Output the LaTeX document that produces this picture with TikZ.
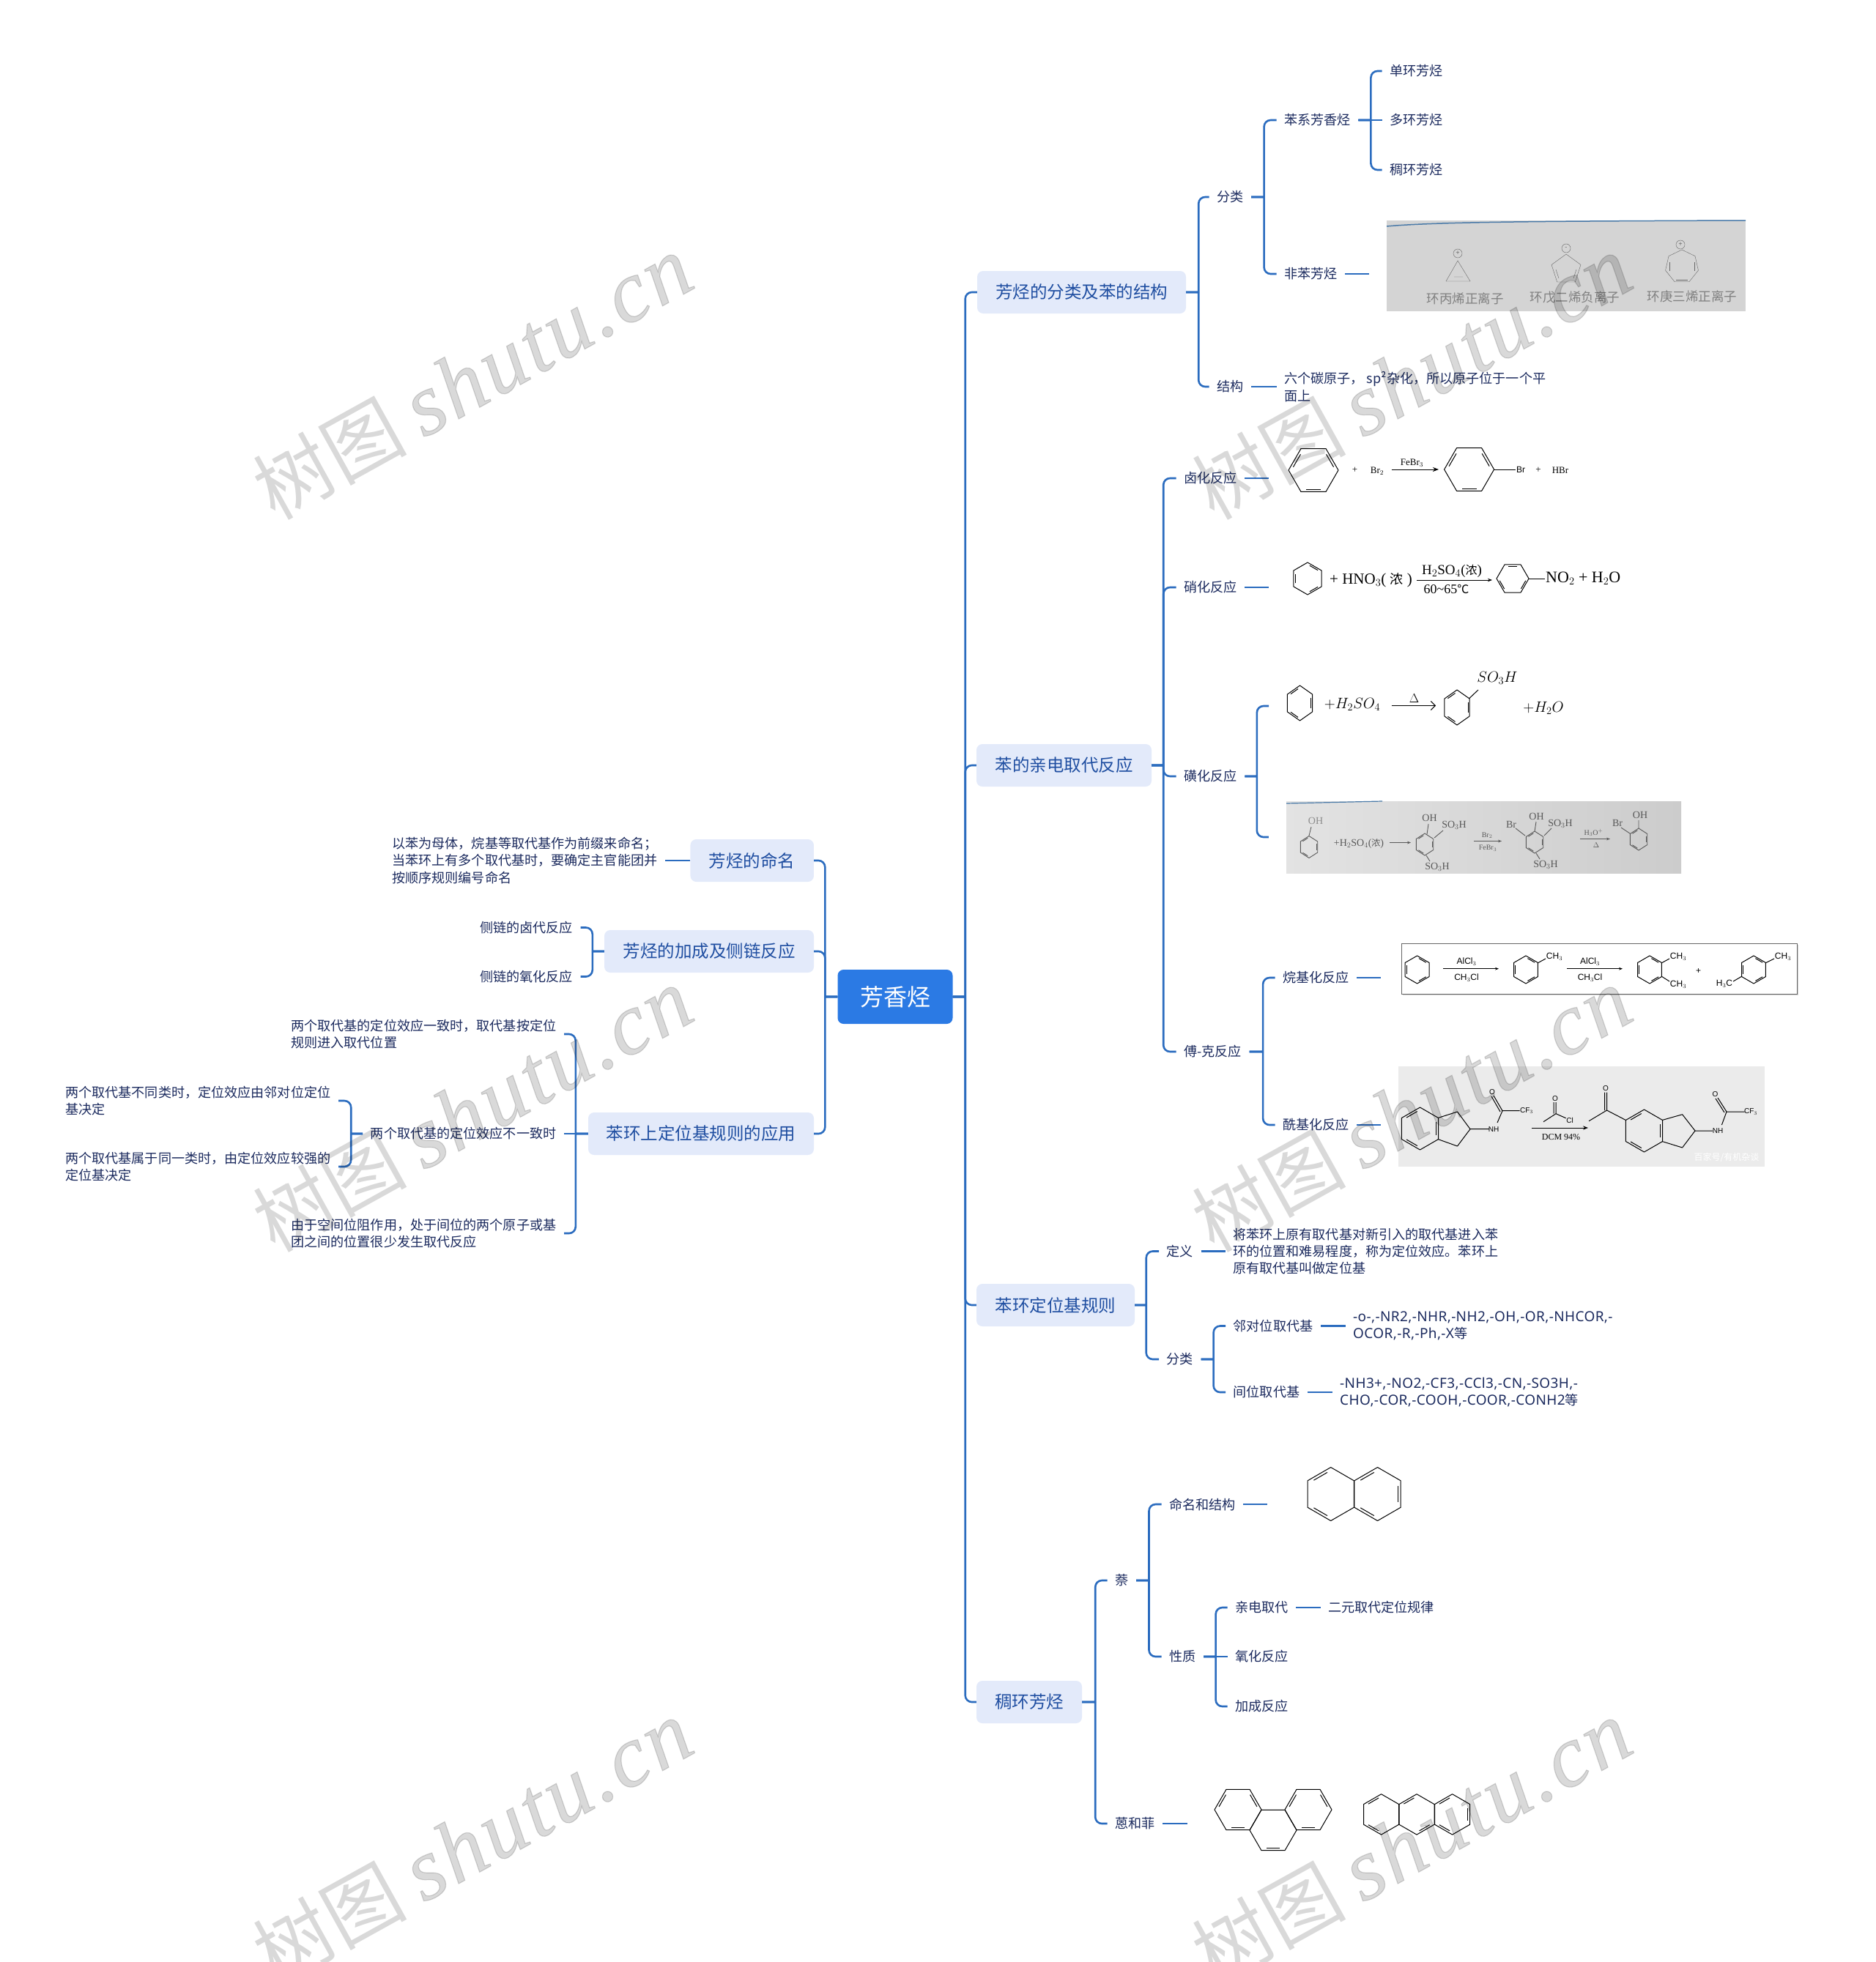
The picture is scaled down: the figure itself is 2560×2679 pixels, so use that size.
\documentclass[tikz,border=0pt]{standalone}
\usepackage{fontspec}
\setmainfont{Noto Sans CJK SC}
\newfontfamily\cjkfont{Noto Sans CJK SC}
\newfontfamily\latinfont[LetterSpace=2]{Noto Sans}
\newfontfamily\chemserif{Liberation Serif}
\newfontfamily\chemsans{Liberation Sans}
\newfontfamily\wmfont[FakeBold=1,LetterSpace=3]{Liberation Serif}
\definecolor{mapBlue}{HTML}{2B6CBF}
\definecolor{mapRoot}{HTML}{2B7AE4}
\definecolor{mapPale}{HTML}{E3EAFA}
\definecolor{mapTopic}{HTML}{1F4EA1}
\definecolor{mapInk}{HTML}{1B2A5E}
\definecolor{photoLine}{HTML}{4A7AA8}
\usetikzlibrary{arrows.meta, positioning, shapes.geometric, shadows}

\newcommand{\ringat}[6][]{%
  \begin{scope}[shift={(#2,#3)},#1]
    \draw[bond] (#5:#4) -- (#5+60:#4) -- (#5+120:#4) -- (#5+180:#4) -- (#5+240:#4) -- (#5+300:#4) -- cycle;
    \foreach \a in {#6} \draw[bond] (\a+9:.82*#4) -- (\a+51:.82*#4);
  \end{scope}}

\begin{document}
\begin{tikzpicture}[
    x=1pt, y=-1pt,
    rootbox/.style={
      rounded corners=8pt,
      fill=mapRoot,
      text=white,
      minimum width=157,
      minimum height=74,
      font=\fontsize{32}{38}\selectfont,
    },
    topic/.style={
      rounded corners=8pt,
      fill=mapPale,
      text=mapTopic,
      minimum height=58,
      inner xsep=0pt,
      font=\fontsize{23.5}{28}\selectfont,
    },
    leaf/.style={
      anchor=west,
      text=mapInk,
      align=left,
      inner xsep=10.5pt,
      inner ysep=1pt,
      font=\fontsize{18.1}{23.4}\selectfont,
    },
    rleaf/.style={leaf, anchor=east},
    conn/.style={mapBlue, line width=2.6pt, rounded corners=9pt},
    stub/.style={mapBlue, line width=2.6pt},
    bond/.style={black, line width=1pt, line join=round},
    arr/.style={-{Stealth[length=8pt]}, black, line width=1pt},
    serif/.style={inner sep=0pt, font=\chemserif\fontsize{13}{15}\selectfont},
    sans/.style={inner sep=0pt, font=\chemsans\fontsize{12}{14}\selectfont},
    photo/.style={inner sep=0pt, fill=#1},
    charge/.style={circle, draw=black!60, inner sep=0pt, minimum size=12, font=\fontsize{9}{9}\selectfont, text=black!60},
    wmark/.style={rotate=29, black, opacity=.15, inner sep=0pt},
  ]
    \useasboundingbox (0,0) rectangle (2560,2679);

    \node[rootbox] (root) at (1222,1361) {芳香烃};

    % right side
    \node[topic, minimum width=285] (kinds) at (1476.5,399) {芳烃的分类及苯的结构};
    \node[topic, minimum width=239] (subst) at (1452.5,1045) {苯的亲电取代反应};
    \node[topic, minimum width=216] (rules) at (1441,1782) {苯环定位基规则};
    \node[topic, minimum width=144] (fused) at (1405,2324) {稠环芳烃};

    \node[leaf] (kindsA) at (1650.5,269) {分类};
    \node[leaf] (kindsB) at (1650.5,528) {结构};
    \node[leaf] (benz) at (1742.5,164) {苯系芳香烃};
    \node[leaf] (nonbenz) at (1742.5,374) {非苯芳烃};
    \node[leaf] (mono) at (1886.5,97) {单环芳烃};
    \node[leaf] (poly) at (1886.5,164) {多环芳烃};
    \node[leaf] (fusedA) at (1886.5,232) {稠环芳烃};
    \node[leaf] (structxt) at (1742.5,528) {六个碳原子， sp²杂化，所以原子位于一个平\\面上};

    \node[leaf] (halo) at (1605.5,653) {卤化反应};
    \node[leaf] (nitro) at (1605.5,802) {硝化反应};
    \node[leaf] (sulfo) at (1605.5,1060) {磺化反应};
    \node[leaf] (fc) at (1605.5,1436) {傅-克反应};
    \node[leaf] (alkyl) at (1740.5,1335) {烷基化反应};
    \node[leaf] (acyl) at (1740.5,1536) {酰基化反应};
    \coordinate (haloEnd) at (1732,653);
    \coordinate (nitroEnd) at (1732,802);
    \coordinate (sulfoEnd) at (1732,964);

    \node[leaf] (rdef) at (1582,1708.5) {定义};
    \node[leaf] (rkind) at (1582,1856) {分类};
    \node[leaf] (rdeftxt) at (1672.5,1708.5) {将苯环上原有取代基对新引入的取代基进入苯\\环的位置和难易程度，称为定位效应。苯环上\\原有取代基叫做定位基};
    \node[leaf] (ortho) at (1673,1810.5) {邻对位取代基};
    \node[leaf] (meta) at (1673,1901) {间位取代基};
    \node[leaf, font=\latinfont\fontsize{19}{23.4}\selectfont] (orthotxt) at (1836.5,1810.5) {-o-,-NR2,-NHR,-NH2,-OH,-OR,-NHCOR,-\\OCOR,-R,-Ph,-X{\cjkfont\fontsize{18.1}{23.4}\selectfont 等}};
    \node[leaf, font=\latinfont\fontsize{19}{23.4}\selectfont] (metatxt) at (1818.5,1901) {-NH3+,-NO2,-CF3,-CCl3,-CN,-SO3H,-\\CHO,-COR,-COOH,-COOR,-CONH2{\cjkfont\fontsize{18.1}{23.4}\selectfont 等}};

    \node[leaf] (naph) at (1511.5,2158) {萘};
    \node[leaf] (anth) at (1511.5,2490) {蒽和菲};
    \node[leaf] (nname) at (1585.5,2054) {命名和结构};
    \node[leaf] (nprop) at (1585.5,2262) {性质};
    \node[leaf] (elec) at (1675.5,2195) {亲电取代};
    \node[leaf] (oxid) at (1675.5,2262) {氧化反应};
    \node[leaf] (addi) at (1675.5,2330) {加成反应};
    \node[leaf] (electxt) at (1802.5,2195) {二元取代定位规律};
    \coordinate (nnameEnd) at (1730,2054);
    \coordinate (anthEnd) at (1621,2490);

    % left side
    \node[topic, minimum width=168.5] (naming) at (1026.7,1175) {芳烃的命名};
    \node[topic, minimum width=286] (addn) at (968,1299) {芳烃的加成及侧链反应};
    \node[topic, minimum width=308] (apply) at (957,1548) {苯环上定位基规则的应用};

    \node[rleaf] (namingtxt) at (908,1175) {以苯为母体，烷基等取代基作为前缀来命名；\\当苯环上有多个取代基时，要确定主官能团并\\按顺序规则编号命名};
    \node[rleaf] (sideA) at (792.5,1266.5) {侧链的卤代反应};
    \node[rleaf] (sideB) at (792.5,1333.5) {侧链的氧化反应};
    \node[rleaf] (appA) at (770,1412) {两个取代基的定位效应一致时，取代基按定位\\规则进入取代位置};
    \node[rleaf] (appB) at (770,1548) {两个取代基的定位效应不一致时};
    \node[rleaf] (appC) at (770,1684) {由于空间位阻作用，处于间位的两个原子或基\\团之间的位置很少发生取代反应};
    \node[rleaf] (appBa) at (462,1503) {两个取代基不同类时，定位效应由邻对位定位\\基决定};
    \node[rleaf] (appBb) at (462,1593) {两个取代基属于同一类时，由定位效应较强的\\定位基决定};

    % pictures that hang on the leaves
    \node[photo=black!17, minimum width=490, minimum height=124] (nonpic) at (2138,363) {};
    \draw[photoLine, line width=1.5pt] (1893,309) .. controls (1960,303) and (2100,302) .. (2383,301);
    \draw[black!60] (1990,356) -- (1974,384) -- (2007,384) -- cycle (1985,378) -- (1997,378);
    \node[charge] (chgA) at (1990,346) {+};
    \node[regular polygon, regular polygon sides=5, draw=black!60, inner sep=0pt, minimum size=42] (cp) at (2138,368) {};
    \draw[black!60] (2124,368) -- (2128,380) (2152,368) -- (2148,380);
    \node[charge] (chgB) at (2138,339) {-};
    \node[regular polygon, regular polygon sides=7, draw=black!60, inner sep=0pt, minimum size=46] (trop) at (2296,364) {};
    \draw[black!60] (2288,382) -- (2304,382) (2279,358) -- (2279,370) (2313,358) -- (2313,370);
    \node[charge] (chgC) at (2294,334) {+};
    \node[text=black!50, inner sep=0pt, font=\fontsize{17.5}{20}\selectfont] (ionA) at (2000,408) {环丙烯正离子};
    \node[text=black!50, inner sep=0pt, font=\fontsize{17.5}{20}\selectfont] (ionB) at (2150,406) {环戊二烯负离子};
    \node[text=black!50, inner sep=0pt, font=\fontsize{17.5}{20}\selectfont] (ionC) at (2310,405) {环庚三烯正离子};

    % halogenation
    \ringat{1793}{642}{34}{0}{180,300,60}
    \node[serif] (plusA) at (1849.5,642) {+};
    \node[serif] (brtwo) at (1880,643) {Br$_2$};
    \coordinate (arrAa) at (1899.5,641);
    \coordinate (arrAb) at (1964,641);
    \draw[arr] (arrAa) -- (arrAb);
    \node[serif] (febr) at (1927.5,632) {FeBr$_3$};
    \ringat{2005.6}{641}{34}{0}{180,300,60}
    \draw[bond] (2040,641) -- (2069,641);
    \node[sans] (brbond) at (2076,641) {Br};
    \node[serif] (plusB) at (2100,642) {+};
    \node[serif] (hbr) at (2130,642) {HBr};

    % nitration
    \ringat{1785}{790}{22}{30}{150,270,30}
    \node[serif, anchor=west, font=\chemserif\fontsize{21}{24}\selectfont] (hno) at (1815,792) {+ HNO$_3$( {\cjkfont\fontsize{18}{20}\selectfont 浓} )};
    \draw[arr, line width=1pt, -{Stealth[length=6pt]}] (1934,792) -- (2037,792);
    \node[serif, font=\chemserif\fontsize{19}{22}\selectfont] (hso) at (1982,780) {H$_2$SO$_4$({\cjkfont\fontsize{16}{18}\selectfont 浓})};
    \node[serif, font=\chemserif\fontsize{18}{21}\selectfont] (temp) at (1974.5,804) {60\textasciitilde 65{\cjkfont\fontsize{16}{18}\selectfont ℃}};
    \ringat{2065}{790}{22}{0}{240,120,0}
    \draw[bond] (2087,790) -- (2109,790);
    \node[serif, anchor=west, font=\chemserif\fontsize{22}{24}\selectfont] (noprod) at (2110,790) {NO$_2$ + H$_2$O};

    % sulfonation
    \ringat[yscale=1,xscale=.82]{1774.5}{960}{24}{30}{210,330,90}
    \node[serif, font=\fontsize{21}{24}\selectfont] (sulA) at (1846,962) {$+H_2SO_4$};
    \node[serif, font=\chemserif\fontsize{16}{18}\selectfont] (sulD) at (1930.6,954) {$\Delta$};
    \draw[black, line width=1pt, -{Straight Barb[length=6pt]}] (1899.5,963.5) -- (1960,963.5);
    \ringat[xscale=.82]{1989}{966}{24}{30}{210,330,90}
    \draw[bond] (2005.6,953.7) -- (2018,942);
    \node[serif, font=\fontsize{20}{24}\selectfont] (sulB) at (2044,926) {$SO_3H$};
    \node[serif, font=\fontsize{21}{24}\selectfont] (sulC) at (2107,967) {$+H_2O$};

    \node[inner sep=0pt, left color=black!11, right color=black!20, minimum width=539, minimum height=98] (sulpic) at (2025.5,1143) {};
    \draw[photoLine, line width=1.2pt] (1756,1097) -- (1887,1094);
    \begin{scope}[black!65]
      \tikzset{bond/.style={black!65, line width=.9pt}, serif/.style={inner sep=0pt, text=black!65, font=\chemserif\fontsize{14}{16}\selectfont}}
      \ringat[xscale=.9]{1787}{1156.5}{15}{30}{210,330,90}
      \node[serif, text=black!45] (phA) at (1796,1121) {OH};
      \draw[bond] (1790,1129) -- (1787,1141);
      \node[serif] (phB) at (1855,1152) {+H$_2$SO$_4$({\cjkfont\fontsize{12}{14}\selectfont 浓})};
      \draw[bond, -{Stealth[length=5pt]}] (1897,1150.5) -- (1926,1150.5);
      \ringat[xscale=.9]{1945}{1153}{15}{30}{210,330,90}
      \node[serif] (phC) at (1951.5,1117) {OH};
      \node[serif] (phD) at (1985,1127) {SO$_3$H};
      \node[serif] (phE) at (1962,1184) {SO$_3$H};
      \draw[bond] (1950,1125) -- (1948,1139) (1958,1144) -- (1970,1134) (1947,1168) -- (1952,1176);
      \draw[bond, -{Stealth[length=5pt]}] (2012,1148.5) -- (2050,1148.5);
      \node[serif, font=\chemserif\fontsize{10}{12}\selectfont] (phF) at (2030,1140.5) {Br$_2$};
      \node[serif, font=\chemserif\fontsize{10}{12}\selectfont] (phG) at (2031,1158) {FeBr$_3$};
      \ringat[xscale=.9]{2095}{1150}{15}{30}{210,330,90}
      \node[serif] (phH) at (2097.5,1114.5) {OH};
      \node[serif] (phI) at (2130,1124.5) {SO$_3$H};
      \node[serif] (phJ) at (2063,1125.5) {Br};
      \node[serif] (phK) at (2110,1181) {SO$_3$H};
      \draw[bond] (2097,1122) -- (2095,1135) (2108,1141) -- (2118,1131) (2082,1141) -- (2069,1131) (2097,1165) -- (2102,1173);
      \draw[bond, -{Stealth[length=5pt]}] (2157,1145.5) -- (2198,1145.5);
      \node[serif, font=\chemserif\fontsize{10}{12}\selectfont] (phL) at (2175.5,1137) {H$_3$O$^+$};
      \node[serif, font=\chemserif\fontsize{10}{12}\selectfont] (phM) at (2179,1154.5) {$\Delta$};
      \ringat[xscale=.9]{2237}{1146}{15}{30}{210,330,90}
      \node[serif] (phN) at (2239,1113) {OH};
      \node[serif] (phO) at (2208,1124) {Br};
      \draw[bond] (2237,1120) -- (2237,1131) (2225,1138) -- (2213,1130);
    \end{scope}

    % alkylation
    \node[draw=black!60, line width=1pt, fill=white, inner sep=0pt, minimum width=540, minimum height=69,
      drop shadow={shadow xshift=2pt, shadow yshift=-2pt, fill=black!35}] (alkpic) at (2183,1322.5) {};
    \ringat{1934.6}{1324}{19}{30}{150,270,30}
    \draw[bond, -{Stealth[length=5pt]}] (1970,1322.7) -- (2046,1322.7);
    \node[sans] (alA) at (2002,1313) {AlCl$_3$};
    \node[sans] (alB) at (2002,1335) {CH$_3$Cl};
    \ringat{2083}{1324}{19}{30}{150,270,30}
    \draw[bond] (2099,1315) -- (2110,1309);
    \node[sans] (alC) at (2122,1306.5) {CH$_3$};
    \draw[bond, -{Stealth[length=5pt]}] (2139,1322.7) -- (2215,1322.7);
    \node[sans] (alD) at (2170.5,1313) {AlCl$_3$};
    \node[sans] (alE) at (2170.5,1335) {CH$_3$Cl};
    \ringat{2252}{1324}{19}{30}{150,270,30}
    \draw[bond] (2268,1315) -- (2279,1309) (2268,1333) -- (2279,1340);
    \node[sans] (alF) at (2291,1306.5) {CH$_3$};
    \node[sans] (alG) at (2291,1344) {CH$_3$};
    \node[sans] (alH) at (2318.6,1326) {+};
    \ringat{2394}{1324}{19}{30}{150,270,30}
    \draw[bond] (2410,1315) -- (2422,1309) (2378,1333) -- (2366,1340);
    \node[sans] (alI) at (2434,1306.5) {CH$_3$};
    \node[sans] (alJ) at (2354,1343) {H$_3$C};

    % acylation
    \node[photo=black!8, minimum width=500, minimum height=137] (acypic) at (2159,1524.5) {};
    \tikzset{small/.style={sans, font=\chemsans\fontsize{10}{12}\selectfont}}
    \ringat{1938.5}{1541}{29}{30}{210,90,330}
    \draw[bond] (1963,1526.5) -- (1989.5,1518) -- (2007,1541.7) -- (1989.5,1565) -- (1963,1555.5);
    \draw[bond] (2007,1541.7) -- (2033,1541.7) (2044,1533) -- (2051,1516.7) -- (2074.5,1516.7);
    \draw[bond] (2051,1516.7) -- (2039,1496) (2048,1518) -- (2036,1497);
    \node[small] (acA) at (2039,1541.7) {NH};
    \node[small] (acB) at (2037,1491) {O};
    \node[small] (acC) at (2084,1516.7) {CF$_3$};
    \draw[bond] (2124,1505) -- (2124,1520.7) (2121,1505) -- (2121,1520.7) (2107,1531.7) -- (2124,1520.7) -- (2137.6,1526.7);
    \node[small] (acD) at (2123,1500) {O};
    \node[small] (acE) at (2143,1530) {Cl};
    \draw[bond, -{Stealth[length=7pt]}] (2091,1540) -- (2168,1540);
    \node[serif, font=\chemserif\fontsize{12}{14}\selectfont] (acF) at (2131,1553) {DCM 94\%};
    \ringat{2244.5}{1544}{29}{30}{210,90,330}
    \draw[bond] (2269,1529.5) -- (2296.6,1521.7) -- (2314,1544) -- (2296.6,1567) -- (2269,1558.5);
    \draw[bond] (2314,1544) -- (2338,1544) (2350.4,1536) -- (2357,1518) -- (2381.7,1518);
    \draw[bond] (2357,1518) -- (2345,1499) (2354,1519) -- (2342,1500);
    \node[small] (acG) at (2345,1544) {NH};
    \node[small] (acH) at (2341.6,1494) {O};
    \node[small] (acI) at (2390,1518) {CF$_3$};
    \draw[bond] (2219.5,1529.5) -- (2193.5,1516) -- (2169,1530.7) (2193.5,1516) -- (2193.5,1491.7) (2190.5,1516) -- (2190.5,1491.7);
    \node[small] (acJ) at (2192,1486) {O};
    \node[text=white, inner sep=0pt, font=\fontsize{12}{14}\selectfont] (acK) at (2357,1580) {百家号/有机杂谈};

    % naphthalene, phenanthrene, anthracene
    \ringat{1816.7}{2040}{36.5}{30}{210,90}
    \ringat{1880.5}{2040}{36.5}{30}{210,330,90}
    \ringat{1690}{2471}{32}{0}{180,300,60}
    \ringat{1786}{2471}{32}{0}{180,300,60}
    \ringat{1738}{2499}{32}{0}{60}
    \ringat{1885.6}{2477.4}{27.7}{30}{210,90}
    \ringat{1934}{2477.4}{27.7}{30}{210,30}
    \ringat{1982.6}{2477.4}{27.7}{30}{210,330,90}

    % connectors
    \draw[conn] (root.east) -- ++(17,0) ++(0,0) |- (kinds.west);
    \draw[conn] (root.east) -- ++(17,0) ++(0,0) |- (subst.west);
    \draw[conn] (root.east) -- ++(17,0) ++(0,0) |- (rules.west);
    \draw[conn] (root.east) -- ++(17,0) ++(0,0) |- (fused.west);
    \draw[conn] (root.west) -- ++(-17,0) ++(0,0) |- (naming.east);
    \draw[conn] (root.west) -- ++(-17,0) ++(0,0) |- (addn.east);
    \draw[conn] (root.west) -- ++(-17,0) ++(0,0) |- (apply.east);

    \draw[conn] (kinds.east) -- ++(17,0) ++(0,0) |- (kindsA.west);
    \draw[conn] (kinds.east) -- ++(17,0) ++(0,0) |- (kindsB.west);
    \draw[conn] (kindsA.east) -- ++(17.5,0) ++(0,0) |- (benz.west);
    \draw[conn] (kindsA.east) -- ++(17.5,0) ++(0,0) |- (nonbenz.west);
    \draw[conn] (benz.east) -- ++(17,0) ++(0,0) |- (mono.west);
    \draw[stub] (benz.east) -- (poly.west);
    \draw[conn] (benz.east) -- ++(17,0) ++(0,0) |- (fusedA.west);
    \draw[stub, shorten >=24pt] (nonbenz.east) -- (nonbenz.east -| nonpic.west);
    \draw[stub] (kindsB.east) -- (structxt.west);

    \draw[conn] (subst.east) -- ++(16,0) ++(0,0) |- (halo.west);
    \draw[conn] (subst.east) -- ++(16,0) ++(0,0) |- (nitro.west);
    \draw[conn] (subst.east) -- ++(16,0) ++(0,0) |- (sulfo.west);
    \draw[conn] (subst.east) -- ++(16,0) ++(0,0) |- (fc.west);
    \draw[stub] (halo.east) -- (haloEnd);
    \draw[stub] (nitro.east) -- (nitroEnd);
    \draw[conn] (sulfo.east) -- ++(16.5,0) ++(0,0) |- (sulfoEnd);
    \draw[conn, shorten >=24pt] (sulfo.east) -- ++(16.5,0) ++(0,0) |- (sulpic.west);
    \draw[conn] (fc.east) -- ++(18.5,0) ++(0,0) |- (alkyl.west);
    \draw[conn] (fc.east) -- ++(18.5,0) ++(0,0) |- (acyl.west);
    \draw[stub, shorten >=28pt] (alkyl.east) -- (alkyl.east -| alkpic.west);
    \draw[stub, shorten >=24pt] (acyl.east) -- (acyl.east -| acypic.west);

    \draw[conn] (rules.east) -- ++(15.5,0) ++(0,0) |- (rdef.west);
    \draw[conn] (rules.east) -- ++(15.5,0) ++(0,0) |- (rkind.west);
    \draw[stub] (rdef.east) -- (rdeftxt.west);
    \draw[conn] (rkind.east) -- ++(17,0) ++(0,0) |- (ortho.west);
    \draw[conn] (rkind.east) -- ++(17,0) ++(0,0) |- (meta.west);
    \draw[stub] (ortho.east) -- (orthotxt.west);
    \draw[stub] (meta.east) -- (metatxt.west);

    \draw[conn] (fused.east) -- ++(18,0) ++(0,0) |- (naph.west);
    \draw[conn] (fused.east) -- ++(18,0) ++(0,0) |- (anth.west);
    \draw[conn] (naph.east) -- ++(17.5,0) ++(0,0) |- (nname.west);
    \draw[conn] (naph.east) -- ++(17.5,0) ++(0,0) |- (nprop.west);
    \draw[stub] (nname.east) -- (nnameEnd);
    \draw[stub] (anth.east) -- (anthEnd);
    \draw[conn] (nprop.east) -- ++(16.5,0) ++(0,0) |- (elec.west);
    \draw[stub] (nprop.east) -- (oxid.west);
    \draw[conn] (nprop.east) -- ++(16.5,0) ++(0,0) |- (addi.west);
    \draw[stub] (elec.east) -- (electxt.west);

    \draw[stub] (naming.west) -- (namingtxt.east);
    \draw[conn] (addn.west) -- ++(-16,0) ++(0,0) |- (sideA.east);
    \draw[conn] (addn.west) -- ++(-16,0) ++(0,0) |- (sideB.east);
    \draw[conn] (apply.west) -- ++(-17,0) ++(0,0) |- (appA.east);
    \draw[stub] (apply.west) -- (appB.east);
    \draw[conn] (apply.west) -- ++(-17,0) ++(0,0) |- (appC.east);
    \draw[conn] (appB.west) -- ++(-16,0) ++(0,0) |- (appBa.east);
    \draw[conn] (appB.west) -- ++(-16,0) ++(0,0) |- (appBb.east);

    % watermark
    \foreach \wn/\wx/\wy in {a/645/516, b/1927/516, c/645/1516, d/1927/1516, e/645/2516, f/1927/2516}
      \node[wmark] (wm\wn) at (\wx,\wy) {{\fontsize{105}{110}\selectfont 树图}\hspace{22pt}{\wmfont\itshape\fontsize{120}{130}\selectfont shutu.cn}};
\end{tikzpicture}
\end{document}
